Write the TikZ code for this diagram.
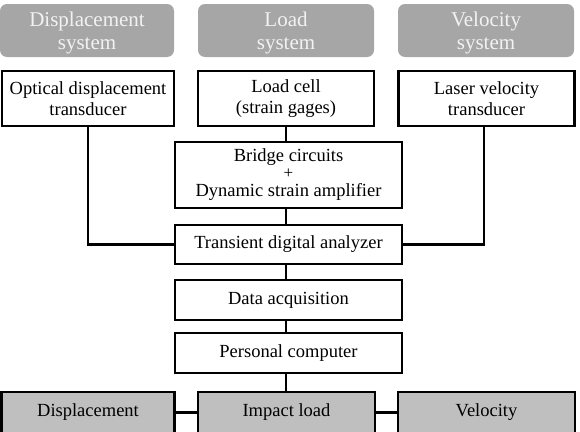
\documentclass[tikz,border=0pt]{standalone}
\usepackage{fontspec}
\setmainfont{Liberation Serif}
\definecolor{topgray}{HTML}{A6A6A6}
\definecolor{toptext}{HTML}{F2F2F2}
\definecolor{botgray}{HTML}{BFBFBF}
\tikzset{
  sysbox/.style={rectangle, rounded corners=7pt, fill=topgray, draw=none, inner sep=0pt},
  systext/.style={text=toptext, align=center, inner sep=0pt, font=\fontsize{21}{23}\selectfont},
  whitebox/.style={rectangle, draw=black, line width=2.8pt, fill=white, align=center,
    inner sep=0pt, font=\fontsize{18.5}{21}\selectfont},
  resbox/.style={whitebox, fill=botgray},
  conn/.style={line width=2.8pt, draw=black}
}
\begin{document}
\begin{tikzpicture}[x=1pt,y=-1pt]
\useasboundingbox (0,0) rectangle (580,431);
\clip (0,0) rectangle (580,431);
% top system boxes
\node[sysbox, minimum width=174pt, minimum height=53pt] (ds) at (87,30.5) {};
\node[sysbox, minimum width=176pt, minimum height=53pt] (ls) at (286,30.5) {};
\node[sysbox, minimum width=176pt, minimum height=53pt] (vs) at (486,30.5) {};
\node[systext] (dst) at ([yshift=-2.5pt]ds.center) {Displacement\\system};
\node[systext] (lst) at ([yshift=-2.5pt]ls.center) {Load\\system};
\node[systext] (vst) at ([yshift=-2.5pt]vs.center) {Velocity\\system};
% sensors
\node[whitebox, minimum width=172pt, minimum height=55pt] (odt) at (88,98.5) {Optical displacement\\transducer};
\node[whitebox, minimum width=176pt, minimum height=55pt] (lc) at (286,98.5) {Load cell\\(strain gages)};
\node[whitebox, minimum width=176pt, minimum height=55pt] (lvt) at (486.5,98.5) {Laser velocity\\transducer};
% chain
\node[whitebox, minimum width=227pt, minimum height=66pt] (bc) at (288.5,175) {Bridge circuits\\[-4pt]{\fontsize{17}{17}\selectfont +}\\[-3pt]Dynamic strain amplifier};
\node[whitebox, minimum width=227pt, minimum height=39pt] (tda) at (288.5,244.5) {Transient digital analyzer};
\node[whitebox, minimum width=227pt, minimum height=40pt] (da) at (288.5,300) {Data acquisition};
\node[whitebox, minimum width=227pt, minimum height=40pt] (pc) at (288.5,353) {Personal computer};
% results
\node[resbox, minimum width=173pt, minimum height=41pt] (disp) at (88,412.5) {Displacement};
\node[resbox, minimum width=177pt, minimum height=41pt] (il) at (286.5,412.5) {Impact load};
\node[resbox, minimum width=177pt, minimum height=41pt] (vel) at (486.5,412.5) {Velocity};
% connectors
\draw[conn] (lc.south) -- (lc.south |- bc.north);
\draw[conn] (lc.south |- bc.south) -- (lc.south |- tda.north);
\draw[conn] (lc.south |- tda.south) -- (lc.south |- da.north);
\draw[conn] (lc.south |- da.south) -- (lc.south |- pc.north);
\draw[conn] (lc.south |- pc.south) -- (il.north -| lc.south);
\draw[conn] (odt.south) -- (odt.south |- tda.west) -- (tda.west);
\draw[conn] (lvt.south -| 484,0) -- (484,0 |- tda.east) -- (tda.east);
\draw[conn] (disp.east) -- (il.west);
\draw[conn] (il.east) -- (vel.west);
\end{tikzpicture}
\end{document}
